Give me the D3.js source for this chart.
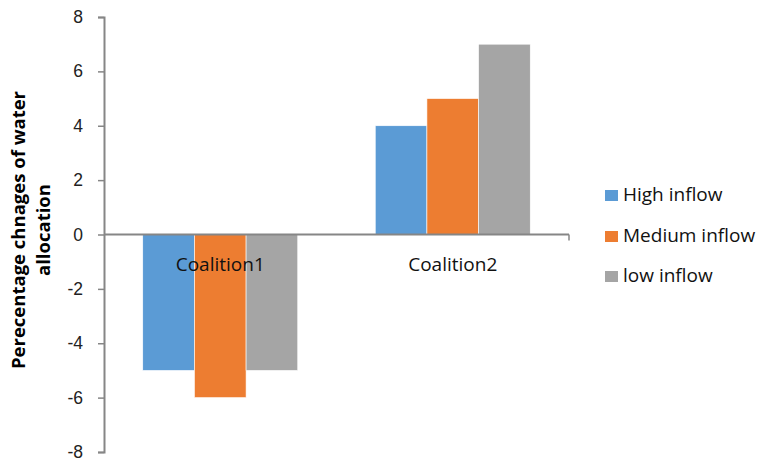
<!DOCTYPE html>
<html>
<head>
<meta charset="utf-8">
<script src="https://cdn.jsdelivr.net/npm/d3@7"></script>
<style>
  body { margin: 0; background: #fff; }
  svg { font-family: "Open Sans", "Liberation Sans", sans-serif; }
</style>
</head>
<body>
<svg id="chart" width="762" height="462"></svg>
<script>
const categories = ["Coalition1", "Coalition2"];
const seriesNames = ["High inflow", "Medium inflow", "low inflow"];
const highInflow = [-5, 4];
const mediumInflow = [-6, 5];
const lowInflow = [-5, 7];
const yTicks = [-8, -6, -4, -2, 0, 2, 4, 6, 8];
const colors = ["#5B9BD5", "#ED7D31", "#A5A5A5"];

const values = [highInflow, mediumInflow, lowInflow];
const svg = d3.select("#chart");

const plotLeft = 104, plotRight = 569, plotTop = 17, plotBottom = 452;

const x = d3.scaleBand().domain(categories).range([plotLeft, plotRight]).paddingInner(0).paddingOuter(0);
const xInner = d3.scaleBand().domain(seriesNames).range([0, x.bandwidth()]).paddingInner(0).paddingOuter(0.75);
const y = d3.scaleLinear().domain([-8, 8]).range([plotBottom, plotTop]);

// bars
categories.forEach((cat, ci) => {
  seriesNames.forEach((s, si) => {
    const v = values[si][ci];
    svg.append("rect")
      .attr("x", x(cat) + xInner(s))
      .attr("y", y(Math.max(0, v)))
      .attr("width", xInner.bandwidth())
      .attr("height", Math.abs(y(v) - y(0)))
      .attr("fill", colors[si])
      .attr("stroke", "#fff")
      .attr("stroke-width", 0.6);
  });
});

// y axis
const yAxis = d3.axisLeft(y).tickValues(yTicks).tickSize(6).tickPadding(15).tickFormat(d3.format("d"));
const gy = svg.append("g").attr("transform", `translate(${plotLeft},0)`).call(yAxis);
gy.select(".domain").attr("stroke", "#868686").attr("stroke-width", 2);
gy.selectAll(".tick line").attr("stroke", "#868686").attr("stroke-width", 1.5);
gy.selectAll(".tick text").attr("font-size", 17.5).attr("fill", "#222")
  .text(d => d < 0 ? "-" + Math.abs(d) : d);

// zero line / category axis
svg.append("line")
  .attr("x1", plotLeft).attr("x2", plotRight)
  .attr("y1", y(0)).attr("y2", y(0))
  .attr("stroke", "#868686").attr("stroke-width", 2);
svg.append("line")
  .attr("x1", plotRight).attr("x2", plotRight)
  .attr("y1", y(0)).attr("y2", y(0) + 6)
  .attr("stroke", "#868686").attr("stroke-width", 1.5);

// category labels
svg.selectAll(".cat")
  .data(categories)
  .enter()
  .append("text")
  .attr("x", d => x(d) + x.bandwidth() / 2)
  .attr("y", y(0) + 36)
  .attr("text-anchor", "middle")
  .attr("font-size", 19)
  .attr("fill", "#111")
  .text(d => d);

// y title
const title = svg.append("text")
  .attr("transform", "translate(0,230) rotate(-90)")
  .attr("text-anchor", "middle")
  .attr("font-size", 18.5)
  .attr("font-weight", "bold")
  .attr("fill", "#000");
title.append("tspan").attr("x", 0).attr("y", 25).text("Perecentage chnages of water");
title.append("tspan").attr("x", 0).attr("y", 50).text("allocation");

// legend
const legendY = [195, 236, 276];
seriesNames.forEach((s, i) => {
  svg.append("rect")
    .attr("x", 605).attr("y", legendY[i] - 5)
    .attr("width", 13).attr("height", 11)
    .attr("fill", colors[i]);
  svg.append("text")
    .attr("x", 623).attr("y", legendY[i] + 6)
    .attr("font-size", 19)
    .attr("fill", "#111")
    .text(s);
});
</script>
</body>
</html>
